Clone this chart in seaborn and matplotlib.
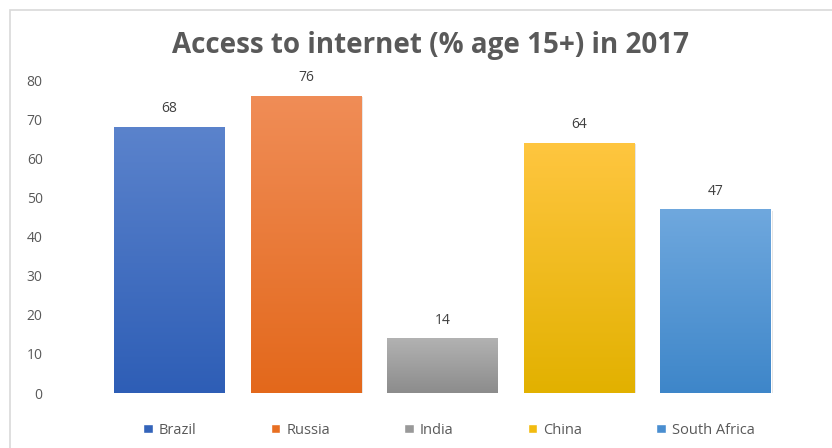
import matplotlib
matplotlib.use("Agg")
import matplotlib.pyplot as plt
import seaborn as sns
import pandas as pd
import numpy as np
from matplotlib.colors import LinearSegmentedColormap
from matplotlib.patches import Rectangle, Patch

countries = ["Brazil", "Russia", "India", "China", "South Africa"]
values = [68, 76, 14, 64, 47]
top_colors = ["#5B83CC", "#F08D57", "#B2B2B2", "#FFC640", "#6FA8DE"]
bottom_colors = ["#2E5EB6", "#E3681B", "#8C8C8C", "#E2B100", "#3E86C9"]
legend_colors = ["#3464BA", "#E86F22", "#999999", "#F2BB10", "#4A8ED0"]
title = "Access to internet (% age 15+) in 2017"
yticks = [0, 10, 20, 30, 40, 50, 60, 70, 80]

df = pd.DataFrame({"country": countries, "value": values})

sns.set_theme(style="white")
plt.rcParams["font.family"] = ["Open Sans", "DejaVu Sans"]

fig = plt.figure(figsize=(8.32, 4.48), dpi=100)
ax = fig.add_axes([101 / 832, 1 - 393 / 448, (784 - 101) / 832, (393 - 80) / 448])

sns.barplot(data=df, x="country", y="value", hue="country", palette=top_colors,
            width=0.81, ax=ax, legend=False, saturation=1)

ax.set_ylim(0, 80)
ax.set_xlim(-0.5, 4.5)
ax.set_yticks(yticks)
ax.set_yticklabels([str(t) for t in yticks], color="#595959", fontsize=10)
ax.tick_params(axis="y", length=0, pad=42)
ax.set_xticks([])
ax.set_xlabel("")
ax.set_ylabel("")
for s in ax.spines.values():
    s.set_visible(False)

# gradients + shadows
grad = np.linspace(0, 1, 256).reshape(-1, 1)
for i, bar in enumerate(ax.patches):
    x0, w, h = bar.get_x(), bar.get_width(), bar.get_height()
    cmap = LinearSegmentedColormap.from_list("g%d" % i, [bottom_colors[i], top_colors[i]])
    sh = Rectangle((x0 + 0.012, 0), w, h - 0.4, facecolor="#000000", alpha=0.12,
                   edgecolor="none", zorder=1.5)
    ax.add_patch(sh)
    im = ax.imshow(grad, extent=[x0, x0 + w, 0, h], origin="lower", cmap=cmap,
                   aspect="auto", zorder=2)
    im.set_clip_path(bar)
    bar.set_zorder(2)
    ax.text(x0 + w / 2, h + 4.6, str(values[i]), ha="center", va="center",
            fontsize=10, color="#404040")
ax.set_xlim(-0.5, 4.5)
ax.set_ylim(0, 80)

fig.text(430 / 832, 1 - 46 / 448, title, ha="center", va="center",
         fontsize=20, fontweight="bold", color="#595959")

handles = [Patch(facecolor=legend_colors[i], label=countries[i]) for i in range(5)]
fig.legend(handles=handles, loc="center", bbox_to_anchor=(449 / 832, 1 - 430 / 448),
           ncol=5, frameon=False, fontsize=10.5, handlelength=0.65, handleheight=0.65,
           columnspacing=5.1, handletextpad=0.4, labelcolor="#595959")

fig.patches.append(Rectangle((10 / 832, -0.05), 1.0, 1 - 10.5 / 448 + 0.05,
                             transform=fig.transFigure, fill=False,
                             edgecolor="#D9D9D9", linewidth=1.2, figure=fig))

fig.savefig("out.png", dpi=100, facecolor="white")
